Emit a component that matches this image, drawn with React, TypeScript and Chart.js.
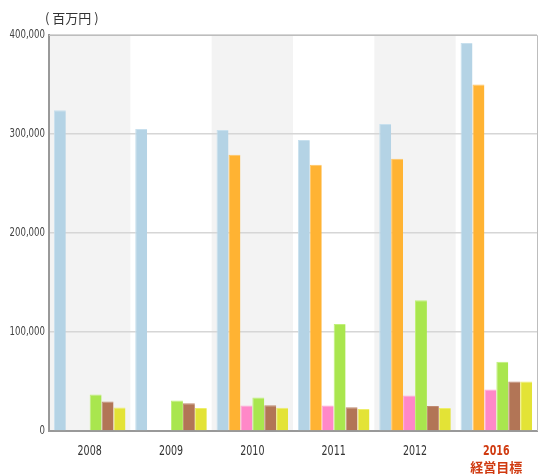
import React, { useEffect, useRef } from "react";
import { Chart, registerables } from "chart.js";

Chart.register(...registerables);

const categories: (string | string[])[] = ["2008", "2009", "2010", "2011", "2012", ["2016", "経営目標"]];
const seriesA = [324000, 305000, 304000, 294000, 310000, 392000];
const seriesB = [0, 0, 279000, 269000, 275000, 350000];
const seriesC = [0, 0, 25700, 25700, 35800, 42000];
const seriesD = [36800, 30700, 33800, 108000, 132000, 70000];
const seriesE = [29700, 28000, 26000, 24000, 25300, 50000];
const seriesF = [23700, 23300, 23500, 22200, 23300, 50000];
const yTicks = [0, 100000, 200000, 300000, 400000];
const unitLabel = "( 百万円 )";

const colors = ["#b4d3e5", "#ffb333", "#ff88c8", "#a9e64e", "#b27556", "#e3e336"];
const borders = ["#c8e0ee", "#ffc460", "#ffa6d6", "#c0f07a", "#c08a70", "#eeee6a"];
const tickFamily = "'DejaVu Sans', sans-serif";

export default function App() {
  const ref = useRef<HTMLCanvasElement | null>(null);
  useEffect(() => {
    document.body.style.margin = "0";
    const narrowText = (ctx: any, text: string, x: number, y: number, align: string, sx: number) => {
      ctx.save();
      ctx.translate(x, y);
      ctx.scale(sx, 1);
      ctx.textAlign = align;
      ctx.fillText(text, 0, 0);
      ctx.restore();
    };
    const bands = {
      id: "bands",
      beforeDraw(chart: any) {
        const { ctx, chartArea, scales } = chart;
        const x = scales.x;
        const w = (chartArea.right - chartArea.left) / categories.length;
        ctx.save();
        ctx.fillStyle = "#f3f3f3";
        categories.forEach((_, i) => {
          if (i % 2 === 0) {
            const c = x.getPixelForValue(i);
            ctx.fillRect(c - w / 2, chartArea.top, w, chartArea.bottom - chartArea.top);
          }
        });
        ctx.restore();
      },
      afterDraw(chart: any) {
        const { ctx, chartArea, scales } = chart;
        ctx.save();
        ctx.strokeStyle = "#bdbdbd";
        ctx.lineWidth = 1;
        ctx.beginPath();
        ctx.moveTo(chartArea.left, chartArea.top + 0.5);
        ctx.lineTo(chartArea.right + 0.5, chartArea.top + 0.5);
        ctx.lineTo(chartArea.right + 0.5, chartArea.bottom);
        ctx.stroke();
        ctx.textBaseline = "middle";
        // unit label
        ctx.fillStyle = "#333";
        ctx.font = "13px 'Noto Sans CJK JP', sans-serif";
        ctx.textAlign = "left";
        ctx.fillText(unitLabel, 45, 18);
        // y ticks
        ctx.fillStyle = "#444";
        ctx.font = "13px " + tickFamily;
        yTicks.forEach((v) => {
          const y = scales.y.getPixelForValue(v);
          narrowText(ctx, v.toLocaleString("en-US"), chartArea.left - 4, y, "right", 0.66);
        });
        // x ticks
        categories.forEach((lab, i) => {
          const cx = scales.x.getPixelForValue(i);
          const lines = Array.isArray(lab) ? lab : [lab];
          const hl = i === 5;
          ctx.fillStyle = hl ? "#d03a10" : "#333";
          lines.forEach((t, j) => {
            const isCjk = /[^\x00-\x7f]/.test(t);
            ctx.font = (hl ? "bold " : "") + (isCjk ? "13px 'Noto Sans CJK JP', sans-serif" : "14px " + tickFamily);
            narrowText(ctx, t, cx, chartArea.bottom + 20 + j * 16, "center", isCjk ? 1 : 0.68);
          });
        });
        ctx.restore();
      },
    };
    const mk = (label: string, data: number[], i: number) => ({
      label,
      data,
      backgroundColor: colors[i],
      borderColor: borders[i],
      borderWidth: { top: 1, left: 1, right: 0, bottom: 0 },
      borderSkipped: "bottom",
      barPercentage: 1,
      categoryPercentage: 0.88,
    });
    const chart = new Chart(ref.current!, {
      type: "bar",
      data: {
        labels: categories,
        datasets: [
          mk("A", seriesA, 0),
          mk("B", seriesB, 1),
          mk("C", seriesC, 2),
          mk("D", seriesD, 3),
          mk("E", seriesE, 4),
          mk("F", seriesF, 5),
        ],
      },
      options: {
        animation: false,
        responsive: false,
        layout: { padding: { top: 35, right: 3, left: 0, bottom: 0 } },
        plugins: { legend: { display: false }, tooltip: { enabled: false }, title: { display: false } },
        scales: {
          x: {
            grid: { display: false, drawTicks: false },
            border: { display: true, color: "#999999", width: 2 },
            afterFit(s: any) { s.height = 44; },
            ticks: { display: false },
          },
          y: {
            min: 0,
            max: 400000,
            afterFit(s: any) { s.width = 49; },
            afterBuildTicks(s: any) { s.ticks = yTicks.map((v) => ({ value: v })); },
            grid: { color: "#d6d6d6", drawTicks: false, lineWidth: 1.5 },
            border: { display: true, color: "#999999", width: 2 },
            ticks: { display: false },
          },
        },
      } as any,
      plugins: [bands],
    });
    return () => chart.destroy();
  }, []);
  return (
    <div style={{ width: 540, height: 475 }}>
      <canvas ref={ref} width={540} height={475} />
    </div>
  );
}
